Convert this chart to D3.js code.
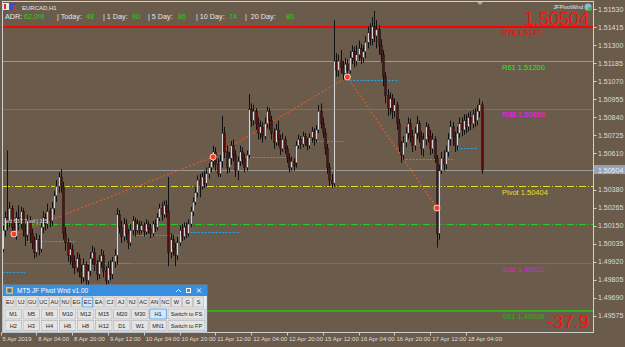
<!DOCTYPE html>
<html>
<head>
<meta charset="utf-8">
<script src="https://cdn.jsdelivr.net/npm/d3@7"></script>
<style>
  body { margin: 0; background: #6b5b4b; }
  svg { display: block; font-family: "Liberation Sans", Arial, sans-serif; }
</style>
</head>
<body>
<svg id="chart" width="625" height="347"></svg>
<script>
// ---- data ----
const tickBars = [0, 16, 32, 48, 64, 80, 96, 112, 128, 144, 160, 176, 192, 208];
const tickLabels = ["5 Apr 2019", "8 Apr 04:00", "8 Apr 20:00", "9 Apr 12:00", "10 Apr 04:00", "10 Apr 20:00",
    "11 Apr 12:00", "12 Apr 04:00", "12 Apr 20:00", "15 Apr 12:00", "16 Apr 04:00", "16 Apr 20:00",
    "17 Apr 12:00", "18 Apr 04:00"];
const priceTicks = [1.51530, 1.51415, 1.51300, 1.51185, 1.51070, 1.50955, 1.50840, 1.50725, 1.50610,
    1.50380, 1.50265, 1.50150, 1.50035, 1.49920, 1.49805, 1.49690, 1.49575];

const opens = [
    1.5006,1.5000,1.5012,1.5020,1.5018,1.5026,1.5014,1.5010,1.5020,1.5016,1.5024,1.5012,
    1.5009,1.5018,1.5010,1.5004,1.4998,1.5006,1.5000,1.5014,1.5020,1.5016,1.5024,1.5018,
    1.5026,1.5034,1.5040,1.5046,1.5040,1.5010,1.5004,1.4996,1.5000,1.4992,1.4988,1.4994,
    1.4986,1.4982,1.4990,1.4980,1.4986,1.4994,1.4998,1.4990,1.4984,1.4992,1.4996,1.4986,
    1.4980,1.4988,1.4984,1.4992,1.4996,1.5022,1.5014,1.5008,1.5016,1.5010,1.5004,1.5012,
    1.5018,1.5012,1.5016,1.5012,1.5015,1.5011,1.5016,1.5013,1.5010,1.5016,1.5014,1.5020,
    1.5026,1.5022,1.5028,1.5024,1.4998,1.5006,1.5000,1.4996,1.5004,1.5012,1.5008,1.5014,
    1.5010,1.5016,1.5024,1.5030,1.5036,1.5044,1.5040,1.5046,1.5042,1.5048,1.5052,1.5056,
    1.5062,1.5054,1.5048,1.5056,1.5074,1.5062,1.5052,1.5058,1.5066,1.5060,1.5050,1.5056,
    1.5062,1.5058,1.5052,1.5060,1.5089,1.5082,1.5088,1.5080,1.5074,1.5078,1.5072,1.5080,
    1.5088,1.5082,1.5074,1.5068,1.5076,1.5070,1.5064,1.5070,1.5064,1.5058,1.5052,1.5056,
    1.5055,1.5066,1.5070,1.5067,1.5072,1.5068,1.5066,1.5071,1.5075,1.5070,1.5076,1.5088,
    1.5080,1.5074,1.5064,1.5052,1.5044,1.5042,1.5120,1.5114,1.5120,1.5116,1.5112,1.5118,
    1.5114,1.5122,1.5126,1.5120,1.5124,1.5128,1.5122,1.5126,1.5132,1.5138,1.5134,1.5142,
    1.5136,1.5140,1.5130,1.5124,1.5110,1.5098,1.5090,1.5096,1.5088,1.5092,1.5080,1.5066,
    1.5060,1.5068,1.5074,1.5080,1.5072,1.5066,1.5074,1.5080,1.5072,1.5064,1.5070,1.5078,
    1.5072,1.5064,1.5070,1.5058,1.5010,1.5050,1.5058,1.5054,1.5062,1.5070,1.5078,1.5072,
    1.5066,1.5074,1.5080,1.5076,1.5082,1.5078,1.5084,1.5080,1.5086,1.5082,1.5088,1.5092];
const highs = [
    1.5010,1.5015,1.5024,1.5063,1.5030,1.5028,1.5018,1.5024,1.5028,1.5027,1.5026,1.5016,
    1.5022,1.5021,1.5013,1.5008,1.5010,1.5009,1.5017,1.5024,1.5023,1.5029,1.5026,1.5030,
    1.5037,1.5044,1.5049,1.5051,1.5043,1.5014,1.5007,1.5004,1.5003,1.4996,1.4998,1.4997,
    1.4990,1.4994,1.4992,1.4990,1.4998,1.5002,1.5001,1.4993,1.4996,1.5000,1.4999,1.4989,
    1.4992,1.4993,1.4995,1.5000,1.5026,1.5025,1.5018,1.5020,1.5019,1.5013,1.5016,1.5021,
    1.5020,1.5019,1.5018,1.5018,1.5017,1.5019,1.5018,1.5016,1.5018,1.5019,1.5023,1.5029,
    1.5030,1.5031,1.5031,1.5046,1.5010,1.5009,1.5004,1.5008,1.5015,1.5016,1.5017,1.5017,
    1.5019,1.5027,1.5033,1.5040,1.5047,1.5048,1.5049,1.5050,1.5052,1.5055,1.5060,1.5066,
    1.5065,1.5058,1.5060,1.5085,1.5078,1.5066,1.5062,1.5069,1.5070,1.5063,1.5059,1.5066,
    1.5065,1.5061,1.5063,1.5099,1.5093,1.5092,1.5090,1.5084,1.5082,1.5081,1.5084,1.5091,
    1.5090,1.5085,1.5077,1.5080,1.5082,1.5073,1.5074,1.5072,1.5066,1.5061,1.5059,1.5058,
    1.5069,1.5073,1.5072,1.5075,1.5074,1.5071,1.5074,1.5078,1.5077,1.5079,1.5092,1.5093,
    1.5084,1.5077,1.5067,1.5055,1.5048,1.5146,1.5125,1.5124,1.5127,1.5120,1.5122,1.5121,
    1.5126,1.5130,1.5129,1.5130,1.5133,1.5131,1.5130,1.5136,1.5142,1.5144,1.5148,1.5152,
    1.5146,1.5143,1.5134,1.5127,1.5113,1.5102,1.5100,1.5099,1.5096,1.5094,1.5083,1.5069,
    1.5072,1.5078,1.5084,1.5083,1.5076,1.5078,1.5085,1.5082,1.5075,1.5074,1.5081,1.5080,
    1.5076,1.5074,1.5072,1.5060,1.5054,1.5062,1.5063,1.5066,1.5074,1.5082,1.5081,1.5075,
    1.5078,1.5084,1.5084,1.5086,1.5086,1.5087,1.5088,1.5089,1.5090,1.5092,1.5096,1.5094];
const lows = [
    1.4996,1.4998,1.5008,1.5012,1.5014,1.5010,1.5007,1.5006,1.5012,1.5013,1.5008,1.5002,
    1.5005,1.5004,1.5000,1.4994,1.4995,1.4996,1.4998,1.5010,1.5012,1.5013,1.5014,1.5015,
    1.5022,1.5030,1.5036,1.5036,1.5006,1.4999,1.4992,1.4990,1.4988,1.4984,1.4985,1.4982,
    1.4978,1.4979,1.4975,1.4977,1.4983,1.4990,1.4986,1.4980,1.4981,1.4988,1.4982,1.4976,
    1.4978,1.4980,1.4981,1.4988,1.4990,1.5010,1.5004,1.5005,1.5006,1.5000,1.5002,1.5009,
    1.5008,1.5010,1.5009,1.5010,1.5008,1.5009,1.5010,1.5007,1.5008,1.5011,1.5012,1.5018,
    1.5018,1.5020,1.5020,1.4989,1.4994,1.4996,1.4989,1.4993,1.5002,1.5005,1.5006,1.5007,
    1.5008,1.5014,1.5021,1.5028,1.5033,1.5033,1.5038,1.5039,1.5040,1.5045,1.5049,1.5052,
    1.5050,1.5046,1.5046,1.5052,1.5058,1.5048,1.5049,1.5054,1.5056,1.5046,1.5044,1.5053,
    1.5054,1.5049,1.5050,1.5058,1.5078,1.5079,1.5076,1.5070,1.5070,1.5068,1.5070,1.5077,
    1.5076,1.5070,1.5064,1.5066,1.5066,1.5060,1.5062,1.5061,1.5055,1.5049,1.5050,1.5050,
    1.5052,1.5064,1.5064,1.5065,1.5066,1.5063,1.5064,1.5068,1.5066,1.5068,1.5074,1.5077,
    1.5071,1.5060,1.5048,1.5040,1.5039,1.5040,1.5110,1.5110,1.5112,1.5108,1.5108,1.5109,
    1.5112,1.5118,1.5116,1.5117,1.5120,1.5118,1.5119,1.5122,1.5128,1.5130,1.5130,1.5132,
    1.5128,1.5124,1.5119,1.5104,1.5093,1.5085,1.5086,1.5083,1.5084,1.5076,1.5062,1.5055,
    1.5057,1.5065,1.5070,1.5068,1.5062,1.5063,1.5070,1.5068,1.5060,1.5059,1.5066,1.5068,
    1.5060,1.5061,1.5055,1.5001,1.5006,1.5048,1.5050,1.5051,1.5059,1.5066,1.5066,1.5062,
    1.5063,1.5071,1.5072,1.5073,1.5074,1.5075,1.5076,1.5077,1.5078,1.5079,1.5084,1.5048];
const closes = [
    1.5000,1.5012,1.5020,1.5018,1.5026,1.5014,1.5010,1.5020,1.5016,1.5024,1.5012,1.5008,
    1.5018,1.5010,1.5004,1.4998,1.5006,1.5000,1.5014,1.5020,1.5016,1.5024,1.5018,1.5026,
    1.5034,1.5040,1.5046,1.5040,1.5010,1.5004,1.4996,1.5000,1.4992,1.4988,1.4994,1.4986,
    1.4982,1.4990,1.4980,1.4986,1.4994,1.4998,1.4990,1.4984,1.4992,1.4996,1.4986,1.4980,
    1.4988,1.4984,1.4992,1.4996,1.5022,1.5014,1.5008,1.5016,1.5010,1.5004,1.5012,1.5018,
    1.5012,1.5016,1.5012,1.5015,1.5011,1.5016,1.5013,1.5010,1.5016,1.5014,1.5020,1.5026,
    1.5022,1.5028,1.5024,1.4998,1.5006,1.5000,1.4996,1.5004,1.5012,1.5008,1.5014,1.5010,
    1.5016,1.5024,1.5030,1.5036,1.5044,1.5040,1.5046,1.5042,1.5048,1.5052,1.5056,1.5062,
    1.5054,1.5048,1.5056,1.5074,1.5062,1.5052,1.5058,1.5066,1.5060,1.5050,1.5056,1.5062,
    1.5058,1.5052,1.5060,1.5089,1.5082,1.5088,1.5080,1.5074,1.5078,1.5072,1.5080,1.5088,
    1.5082,1.5074,1.5068,1.5076,1.5070,1.5064,1.5070,1.5064,1.5058,1.5052,1.5056,1.5053,
    1.5066,1.5070,1.5067,1.5072,1.5068,1.5066,1.5071,1.5075,1.5070,1.5076,1.5088,1.5080,
    1.5074,1.5064,1.5052,1.5044,1.5042,1.5120,1.5114,1.5120,1.5116,1.5112,1.5118,1.5114,
    1.5122,1.5126,1.5120,1.5124,1.5128,1.5122,1.5126,1.5132,1.5138,1.5134,1.5142,1.5136,
    1.5140,1.5130,1.5124,1.5110,1.5098,1.5090,1.5096,1.5088,1.5092,1.5080,1.5066,1.5060,
    1.5068,1.5074,1.5080,1.5072,1.5066,1.5074,1.5080,1.5072,1.5064,1.5070,1.5078,1.5072,
    1.5064,1.5070,1.5058,1.5010,1.5050,1.5058,1.5054,1.5062,1.5070,1.5078,1.5072,1.5066,
    1.5074,1.5080,1.5076,1.5082,1.5078,1.5084,1.5080,1.5086,1.5082,1.5088,1.5092,1.50504];

const levelNames  = ["R78", "R61", "R38", "Pivot", "S38", "S61"];
const levelValues = [1.5142, 1.51200, 1.50896, 1.50404, 1.49912, 1.49608];
const levelText   = ["1.5142", "1.51200", "1.50896", "1.50404", "1.49912", "1.49608"];
const levelColors = ["#ff0000", "#22ee11", "#ff11ff", "#e0e020", "#dd22dd", "#33aa22"];
const levelWidths = [2, 1, 1, 1, 1, 2];
const extraLevel = 1.50160;
const lastPrice = 1.50504;

const zigBars   = [6, 95, 155, 195];
const zigPrices = [1.50096, 1.50588, 1.51098, 1.50262];

const segStart  = [1, 12, 37, 60, 85, 108, 132, 156, 181, 204];
const segEnd    = [11, 34, 58, 81, 107, 130, 154, 178, 202, 213];
const segPrices = [1.49854, 1.50052, 1.49911, 1.50090, 1.50109, 1.50588, 1.50690, 1.51079, 1.50575, 1.50645];

const adrNames  = ["ADR:", "| Today:", "| 1 Day:", "| 5 Day:", "| 10 Day:", "|  20 Day:"];
const adrValues = ["62.0%", "48", "90", "86", "74", "80"];

const row1 = ["EU","UJ","GU","UC","AU","NU","EG","EC","EA","CJ","AJ","NJ","AC","AN","NC","W","G","S"];
const row2 = ["M1","M5","M6","M10","M12","M15","M20","M30","H1","Switch to FS"];
const row3 = ["H2","H3","H4","H6","H8","H12","D1","W1","MN1","Switch to FP"];
const activeButtons = ["EC", "H1"];

// ---- setup ----
const svg = d3.select("#chart");
const plot = {left: 2.5, top: 1.5, right: 593.5, bottom: 332.5};

const x = d3.scaleLinear().domain([0, 208]).range([0.5, 466]);
const y = d3.scaleLinear().domain([1.49575, 1.51530]).range([315.7, 9.3]);
const snap = v => Math.round(v) + 0.5;

svg.append("rect").attr("width", 625).attr("height", 347).attr("fill", "#6b5b4b");

svg.append("clipPath").attr("id", "plotClip")
    .append("rect")
    .attr("x", plot.left).attr("y", plot.top)
    .attr("width", plot.right - plot.left).attr("height", plot.bottom - plot.top);

let g = svg.append("g").attr("clip-path", "url(#plotClip)");

// pivot levels
g.selectAll("line.level").data(levelValues).enter().append("line")
    .attr("class", "level")
    .attr("x1", plot.left).attr("x2", plot.right)
    .attr("y1", (d, i) => levelWidths[i] === 2 ? Math.round(y(d)) : snap(y(d)))
    .attr("y2", (d, i) => levelWidths[i] === 2 ? Math.round(y(d)) : snap(y(d)))
    .attr("stroke", (d, i) => levelColors[i])
    .attr("stroke-width", (d, i) => levelWidths[i])
    .attr("shape-rendering", "crispEdges")
    .attr("stroke-dasharray", (d, i) => levelNames[i] === "Pivot" ? "7,2,1,2" : null);

g.append("line")
    .attr("x1", plot.left).attr("x2", plot.right)
    .attr("y1", snap(y(extraLevel))).attr("y2", snap(y(extraLevel)))
    .attr("stroke", "#22cc22").attr("stroke-dasharray", "7,2,1,2")
    .attr("shape-rendering", "crispEdges");

// current price line
g.append("line")
    .attr("x1", plot.left).attr("x2", plot.right)
    .attr("y1", snap(y(lastPrice))).attr("y2", snap(y(lastPrice)))
    .attr("stroke", "#9a9a9a").attr("shape-rendering", "crispEdges");

// cyan dotted segments
g.selectAll("line.seg").data(segPrices).enter().append("line")
    .attr("class", "seg")
    .attr("x1", (d, i) => x(segStart[i])).attr("x2", (d, i) => x(segEnd[i]))
    .attr("y1", d => snap(y(d))).attr("y2", d => snap(y(d)))
    .attr("stroke", "#2aa4ea").attr("stroke-dasharray", "2,1.5");

// zigzag dotted line
let zigLine = d3.line().x((d, i) => x(zigBars[i])).y(d => y(d));
g.append("path").datum(zigPrices)
    .attr("d", zigLine)
    .attr("fill", "none").attr("stroke", "#e8582c").attr("stroke-width", 1.1)
    .attr("stroke-dasharray", "2,2");

// candles
let bars = d3.range(closes.length);
g.selectAll("line.wick").data(bars).enter().append("line")
    .attr("class", "wick")
    .attr("x1", i => snap(x(i))).attr("x2", i => snap(x(i)))
    .attr("y1", i => y(highs[i])).attr("y2", i => y(lows[i]))
    .attr("stroke", "#111");

g.selectAll("rect.body").data(bars).enter().append("rect")
    .attr("class", "body")
    .attr("x", i => Math.round(x(i)) - 0.5)
    .attr("width", 2)
    .attr("y", i => y(Math.max(opens[i], closes[i])))
    .attr("height", i => Math.max(1, Math.abs(y(opens[i]) - y(closes[i]))))
    .attr("fill", i => closes[i] >= opens[i] ? "#d4d4d4" : "#5e0c0c")
    .attr("stroke", "#111").attr("stroke-width", 0.4);

// zigzag dots
g.selectAll("circle.zig").data(zigPrices).enter().append("circle")
    .attr("class", "zig")
    .attr("cx", (d, i) => x(zigBars[i])).attr("cy", d => y(d))
    .attr("r", 3).attr("fill", "#ff3b1a").attr("stroke", "#f0d8d0").attr("stroke-width", 1);

// level labels
g.selectAll("text.levelLabel").data(levelValues).enter().append("text")
    .attr("class", "levelLabel")
    .attr("x", 502).attr("y", d => y(d) + 8.8)
    .attr("fill", (d, i) => levelColors[i])
    .style("font-size", "7.5px")
    .text((d, i) => levelNames[i] + " " + levelText[i]);

// small left label
g.append("text").attr("x", 5).attr("y", 223)
    .attr("fill", "#d8d8d8").style("font-size", "5.5px")
    .text("wd 637.7 ad [ 1.5");

// frame
svg.append("rect")
    .attr("x", plot.left).attr("y", plot.top)
    .attr("width", plot.right - plot.left).attr("height", plot.bottom - plot.top)
    .attr("fill", "none").attr("stroke", "#cfcfcf");

// shift marker
svg.append("path").attr("d", "M477,2 L483,2 L480,5 Z").attr("fill", "#a8a8b8");

// price axis
svg.selectAll("line.ptick").data(priceTicks).enter().append("line")
    .attr("x1", plot.right).attr("x2", plot.right + 3)
    .attr("y1", d => snap(y(d))).attr("y2", d => snap(y(d)))
    .attr("stroke", "#cfcfcf");
svg.selectAll("text.ptick").data(priceTicks).enter().append("text")
    .attr("x", 598).attr("y", d => y(d) + 2.5)
    .attr("fill", "#dcdcdc").style("font-size", "7px")
    .text(d => d.toFixed(5));

svg.append("rect").attr("x", 594).attr("y", y(lastPrice) - 5).attr("width", 31).attr("height", 9)
    .attr("fill", "#98a3b8");
svg.append("text").attr("x", 598).attr("y", y(lastPrice) + 2.5)
    .attr("fill", "#eef0f4").style("font-size", "7px").text(lastPrice.toFixed(5));

// time axis
svg.selectAll("line.ttick").data(tickBars).enter().append("line")
    .attr("x1", d => snap(x(d))).attr("x2", d => snap(x(d)))
    .attr("y1", plot.bottom).attr("y2", plot.bottom + 3)
    .attr("stroke", "#cfcfcf");
svg.selectAll("text.ttick").data(tickBars).enter().append("text")
    .attr("x", d => Math.max(2, x(d) + 2)).attr("y", 341)
    .attr("fill", "#dcdcdc").style("font-size", "6px")
    .text((d, i) => tickLabels[i]);

// header
svg.append("rect").attr("x", 3).attr("y", 3).attr("width", 6).attr("height", 7).attr("fill", "#e8e8f0");
svg.append("rect").attr("x", 4).attr("y", 4).attr("width", 2).attr("height", 5).attr("fill", "#c03030");
svg.append("rect").attr("x", 10).attr("y", 3).attr("width", 6).attr("height", 7).attr("fill", "#3050c8");
svg.append("rect").attr("x", 13).attr("y", 5).attr("width", 3).attr("height", 5).attr("fill", "#d83030");
svg.append("text").attr("x", 22).attr("y", 9.5).attr("fill", "#e6e6e6")
    .style("font-size", "6px").text("EURCAD,H1");

const adrX = [5, 57, 103, 148, 196, 245];
const adrValX = [24, 86, 132, 178, 229, 286];
svg.selectAll("text.adrName").data(adrNames).enter().append("text")
    .attr("x", (d, i) => adrX[i]).attr("y", 19)
    .attr("fill", "#e6e6e6").style("font-size", "7.2px").style("white-space", "pre")
    .text(d => d);
svg.selectAll("text.adrVal").data(adrValues).enter().append("text")
    .attr("x", (d, i) => adrValX[i]).attr("y", 19)
    .attr("fill", "#22d022").style("font-size", "7.2px")
    .text(d => d);

svg.append("text").attr("x", 583).attr("y", 8.5).attr("text-anchor", "end")
    .attr("fill", "#e6e6e6").style("font-size", "5.5px").text("JFPivotWnd");
svg.append("circle").attr("cx", 588).attr("cy", 7).attr("r", 3.5).attr("fill", "#8ab8d8");
svg.append("circle").attr("cx", 590).attr("cy", 9).attr("r", 2).attr("fill", "#38b838");

svg.append("text").attr("x", 589).attr("y", 25).attr("text-anchor", "end")
    .attr("fill", "#ff1010").style("font-size", "18px").text(lastPrice.toFixed(5));
svg.append("text").attr("x", 589).attr("y", 328).attr("text-anchor", "end")
    .attr("fill", "#ff1010").style("font-size", "18.5px").text("-37.9");

// ---- control panel ----
let panel = svg.append("g");
panel.append("rect").attr("x", 3).attr("y", 285).attr("width", 204).attr("height", 47)
    .attr("fill", "#f0f0f0").attr("stroke", "#7aa8d8").attr("stroke-width", 0.6);
panel.append("rect").attr("x", 3).attr("y", 285).attr("width", 204).attr("height", 11)
    .attr("fill", "#3a8ee0");
panel.append("rect").attr("x", 6).attr("y", 287).attr("width", 7).attr("height", 7).attr("fill", "#d8c070");
panel.append("rect").attr("x", 7.5).attr("y", 288.5).attr("width", 4).attr("height", 4).attr("fill", "#506890");
panel.append("text").attr("x", 17).attr("y", 293.3).attr("fill", "#ffffff")
    .style("font-size", "6.5px").text("MT5 JF Pivot Wnd v1.00");
panel.append("path").attr("d", "M176,292 L178.5,289.5 L181,292").attr("fill", "none").attr("stroke", "#fff");
panel.append("rect").attr("x", 186.5).attr("y", 288.5).attr("width", 4).attr("height", 4)
    .attr("fill", "none").attr("stroke", "#fff");
panel.append("path").attr("d", "M197,288.5 L201,292.5 M201,288.5 L197,292.5").attr("stroke", "#fff");

function drawRow(labels, y0, xs, ws) {
    let btn = panel.selectAll(null).data(labels).enter().append("g");
    btn.append("rect")
        .attr("x", (d, i) => xs[i]).attr("y", y0)
        .attr("width", (d, i) => ws[i]).attr("height", 10)
        .attr("fill", d => activeButtons.includes(d) ? "#d6e8f8" : "#e4e4e4")
        .attr("stroke", d => activeButtons.includes(d) ? "#3c88d8" : "#b4b4b4")
        .attr("stroke-width", 0.7);
    btn.append("text")
        .attr("x", (d, i) => xs[i] + ws[i] / 2).attr("y", y0 + 7)
        .attr("text-anchor", "middle").attr("fill", "#202020")
        .style("font-size", "5.6px")
        .text(d => d);
}
drawRow(row1, 297, row1.map((d, i) => 5 + i * 11.1), row1.map(() => 10));
let rowXs = row2.map((d, i) => i < 9 ? 5 + i * 18.1 : 168);
let rowWs = row2.map((d, i) => i < 9 ? 16.5 : 37);
drawRow(row2, 309, rowXs, rowWs);
drawRow(row3, 320.5, rowXs, rowWs);
</script>
</body>
</html>
